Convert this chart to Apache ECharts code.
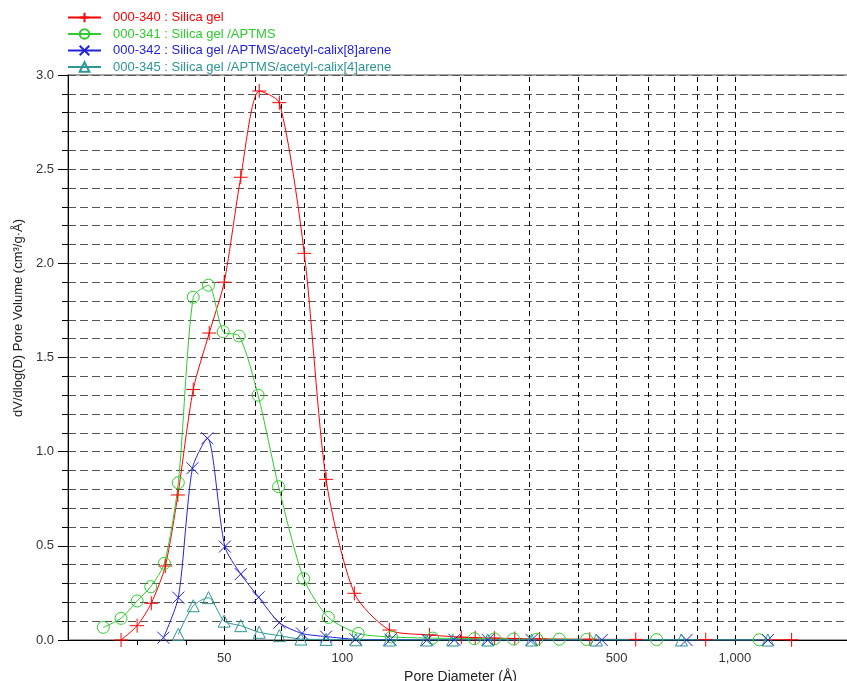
<!DOCTYPE html>
<html>
<head>
<meta charset="utf-8">
<script src="https://cdn.jsdelivr.net/npm/echarts@6/dist/echarts.min.js"></script>
<style>
html, body { margin: 0; padding: 0; background: #fff; }
#chart { width: 847px; height: 681px; }
</style>
</head>
<body>
<div id="chart"></div>
<script>
// pore diameter (Å) and dV/dlog(D)
var silicaX = [27.3, 30, 32.6, 35.4, 38.1, 41.7, 45.8, 50, 55.1, 61.4, 69.1, 80, 90.9, 107.3, 131.8, 166.7, 201, 218, 244, 275, 318, 427, 559, 843, 1395];
var silicaY = [0, 0.076, 0.195, 0.393, 0.77, 1.33, 1.63, 1.90, 2.457, 2.915, 2.853, 2.053, 0.853, 0.248, 0.053, 0.027, 0.015, 0.012, 0.01, 0.008, 0.006, 0.004, 0.003, 0.002, 0.001];

var aptmsX = [24.6, 27.3, 30, 32.5, 35.2, 38.2, 41.7, 45.6, 49.7, 54.6, 61, 68.8, 79.7, 92.1, 109.8, 133.4, 169.8, 217, 244, 273, 313, 357, 419, 632, 1154];
var aptmsY = [0.067, 0.115, 0.207, 0.283, 0.407, 0.835, 1.82, 1.884, 1.637, 1.614, 1.30, 0.814, 0.326, 0.12, 0.035, 0.016, 0.01, 0.007, 0.006, 0.005, 0.004, 0.004, 0.003, 0.002, 0.001];

var calix8X = [35, 38.2, 41.5, 45.3, 50.2, 55.1, 61.2, 69.1, 78.9, 90.9, 108, 132.6, 164.6, 193, 234.7, 303.5, 458, 753, 1214];
var calix8Y = [0.012, 0.225, 0.912, 1.071, 0.496, 0.35, 0.227, 0.092, 0.035, 0.018, 0.004, 0.002, 0.001, 0.001, 0, 0, 0, 0, 0];

var calix4X = [38.2, 41.7, 45.6, 50, 55.1, 61.4, 69.1, 78.4, 90.9, 108.3, 131.8, 163.6, 191, 234.7, 303.5, 444, 731, 1214];
var calix4Y = [0.03, 0.182, 0.225, 0.10, 0.076, 0.041, 0.023, 0.005, 0.003, 0.001, 0, 0, 0, 0, 0, 0, 0, 0];

var seriesNames = [
    '000-340 : Silica gel',
    '000-341 : Silica gel /APTMS',
    '000-342 : Silica gel /APTMS/acetyl-calix[8]arene',
    '000-345 : Silica gel /APTMS/acetyl-calix[4]arene'
];
var seriesColors = ['#ff0000', '#2ecc2e', '#2222dd', '#2e9696'];

var xTickValues = [30, 40, 50, 100, 500, 1000];
var xLabelValues = [50, 100, 500, 1000];
var gridX = [50, 60, 70, 80, 90, 100, 200, 300, 400, 500, 600, 700, 800, 900, 1000];

var plusSymbol = 'path://M0,7L14,7M7,0L7,14';
var crossSymbol = 'path://M0,0L14,14M14,0L0,14';

var chart = echarts.init(document.getElementById('chart'));

function makeSeries(idx, xs, ys, symbol, size) {
    var color = seriesColors[idx];
    return {
        name: seriesNames[idx],
        type: 'line',
        data: xs.map(function (x, i) { return [x, ys[i]]; }),
        symbol: symbol,
        symbolSize: size,
        showAllSymbol: true,
        smooth: 0.25,
        lineStyle: { color: color, width: 1 },
        itemStyle: { color: 'transparent', borderColor: color, borderWidth: 1 },
        emphasis: { disabled: true },
        z: 3
    };
}

var series = [
    makeSeries(0, silicaX, silicaY, plusSymbol, 14),
    makeSeries(1, aptmsX, aptmsY, 'circle', 12),
    makeSeries(2, calix8X, calix8Y, crossSymbol, 12),
    makeSeries(3, calix4X, calix4Y, 'triangle', 12)
];

series[0].markLine = {
    silent: true,
    symbol: ['none', 'none'],
    label: { show: false },
    lineStyle: { color: '#000', type: [5, 4], width: 1 },
    data: gridX.map(function (v) { return { xAxis: v }; }),
    animation: false,
    z: 1
};

var option = {
    animation: false,
    legend: {
        orient: 'vertical',
        left: 62,
        top: 6,
        itemWidth: 33,
        itemHeight: 12,
        itemGap: 3.5,
        selectedMode: false,
        textStyle: { fontFamily: 'Liberation Sans', fontSize: 13, padding: [0, 0, 0, 7] },
        data: seriesNames.map(function (n, i) {
            return { name: n, textStyle: { color: seriesColors[i] } };
        })
    },
    grid: {
        left: 68,
        top: 75,
        width: 785,
        height: 565,
        outerBoundsMode: 'none',
        containLabel: false,
        show: true,
        borderColor: '#888',
        borderWidth: 1.5
    },
    xAxis: {
        type: 'log',
        logBase: 10,
        min: 20,
        max: 2000,
        name: 'Pore Diameter (Å)',
        nameLocation: 'middle',
        nameGap: 26,
        nameTextStyle: { fontFamily: 'Liberation Sans', fontSize: 14, color: '#222' },
        axisLine: { lineStyle: { color: '#000', width: 1 } },
        axisTick: { customValues: xTickValues, length: 5, lineStyle: { color: '#000' } },
        axisLabel: {
            customValues: xLabelValues,
            margin: 12,
            fontFamily: 'Liberation Sans',
            fontSize: 13,
            color: '#333',
            formatter: function (v) { return v >= 1000 ? (v / 1000) + ',000' : String(v); }
        },
        splitLine: { show: false },
        minorTick: { show: false }
    },
    yAxis: {
        type: 'value',
        min: 0,
        max: 3,
        interval: 0.5,
        axisLine: { show: true, lineStyle: { color: '#000', width: 1 } },
        axisTick: { show: true, length: 10, lineStyle: { color: '#000' } },
        minorTick: { show: true, splitNumber: 5, length: 6, lineStyle: { color: '#000' } },
        axisLabel: {
            margin: 14,
            fontFamily: 'Liberation Sans',
            fontSize: 13,
            color: '#333',
            formatter: function (v) { return v.toFixed(1); }
        },
        splitLine: { show: true, lineStyle: { color: '#555', type: [8, 4], width: 1 } },
        minorSplitLine: { show: true, lineStyle: { color: '#555', type: [8, 4], width: 1 } }
    },
    graphic: [{
        type: 'text',
        x: 18,
        y: 318,
        rotation: Math.PI / 2,
        style: {
            text: 'dV/dlog(D) Pore Volume (cm³/g·Å)',
            font: '13px "Liberation Sans"',
            fill: '#222',
            align: 'center',
            verticalAlign: 'middle'
        }
    }],
    series: series
};

chart.setOption(option);
</script>
</body>
</html>
